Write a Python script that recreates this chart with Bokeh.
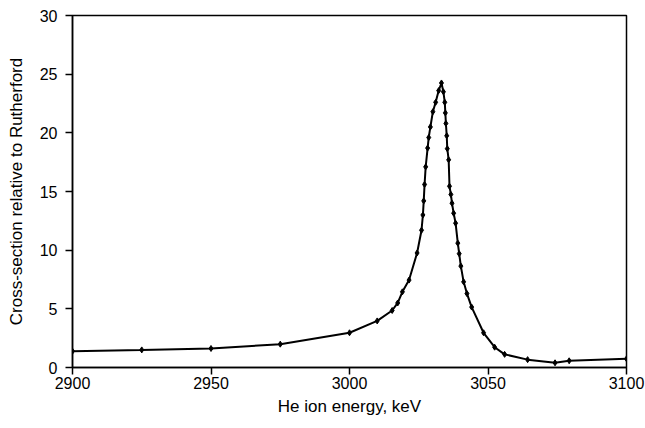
from bokeh.plotting import figure
from bokeh.models import Range1d, FixedTicker
from bokeh.embed import file_html
from bokeh.resources import INLINE

energy_kev = [2900, 2925, 2950, 2975, 3000, 3010, 3015.4, 3017.4, 3019.1, 3021.5, 3024.4,
              3026.0, 3026.5, 3026.8, 3027.1, 3027.5, 3028.2, 3028.6, 3029.2, 3030.1,
              3031.1, 3032.2, 3033.2, 3033.9, 3034.4, 3034.6, 3034.8, 3035.1, 3035.3,
              3035.8, 3036.1, 3036.6, 3037.0, 3037.6, 3038.3, 3039.1, 3039.6, 3040.2,
              3041.2, 3042.4, 3044.1, 3048.4, 3052.4, 3056.0, 3064.3, 3074.2, 3079.3, 3100]
cross_section = [1.39, 1.5, 1.62, 1.99, 2.96, 3.97, 4.86, 5.5, 6.45, 7.45, 9.76,
                 11.7, 13.0, 14.2, 15.6, 17.1, 18.7, 19.6, 20.5, 21.8,
                 22.6, 23.6, 24.25, 23.5, 22.6, 21.7, 20.8, 19.75, 18.65,
                 17.7, 15.45, 14.75, 14.0, 13.15, 12.3, 10.6, 9.7, 8.64,
                 7.3, 6.3, 5.15, 2.96, 1.73, 1.12, 0.67, 0.4, 0.57, 0.74]
x_ticks = [2900, 2950, 3000, 3050, 3100]
y_ticks = [0, 5, 10, 15, 20, 25, 30]

FONT = "Liberation Sans"

p = figure(width=645, height=428, output_backend="svg", toolbar_location=None,
           x_range=Range1d(2900, 3100), y_range=Range1d(0, 30),
           min_border_left=72, min_border_right=19, min_border_top=15, min_border_bottom=61)
p.xgrid.visible = False
p.ygrid.visible = False
p.outline_line_color = "black"
p.outline_line_width = 1.5
p.background_fill_color = "white"
p.border_fill_color = "white"

p.line(energy_kev, cross_section, line_color="black", line_width=2)
p.scatter(energy_kev, cross_section, marker="diamond", size=6, fill_color="black", line_color="black")

for ax, ticks in ((p.xaxis, x_ticks), (p.yaxis, y_ticks)):
    ax.ticker = FixedTicker(ticks=ticks)
    ax.minor_tick_line_color = None
    ax.major_tick_in = 0
    ax.major_tick_out = 7
    ax.major_tick_line_color = "black"
    ax.major_tick_line_width = 1.5
    ax.axis_line_color = "black"
    ax.axis_line_width = 1.5
    ax.major_label_text_font = FONT
    ax.major_label_text_font_size = "16px"
    ax.major_label_text_color = "black"
    ax.axis_label_text_font = FONT
    ax.axis_label_text_font_size = "17px"
    ax.axis_label_text_font_style = "normal"
    ax.axis_label_text_color = "black"

p.xaxis.axis_label = "He ion energy, keV"
p.yaxis.axis_label = "Cross-section relative to Rutherford"
p.xaxis.major_label_standoff = 2
p.xaxis.axis_label_standoff = 5
p.yaxis.major_label_standoff = 8
p.yaxis.axis_label_standoff = 11

open("out.html", "w").write(file_html(p, INLINE))
